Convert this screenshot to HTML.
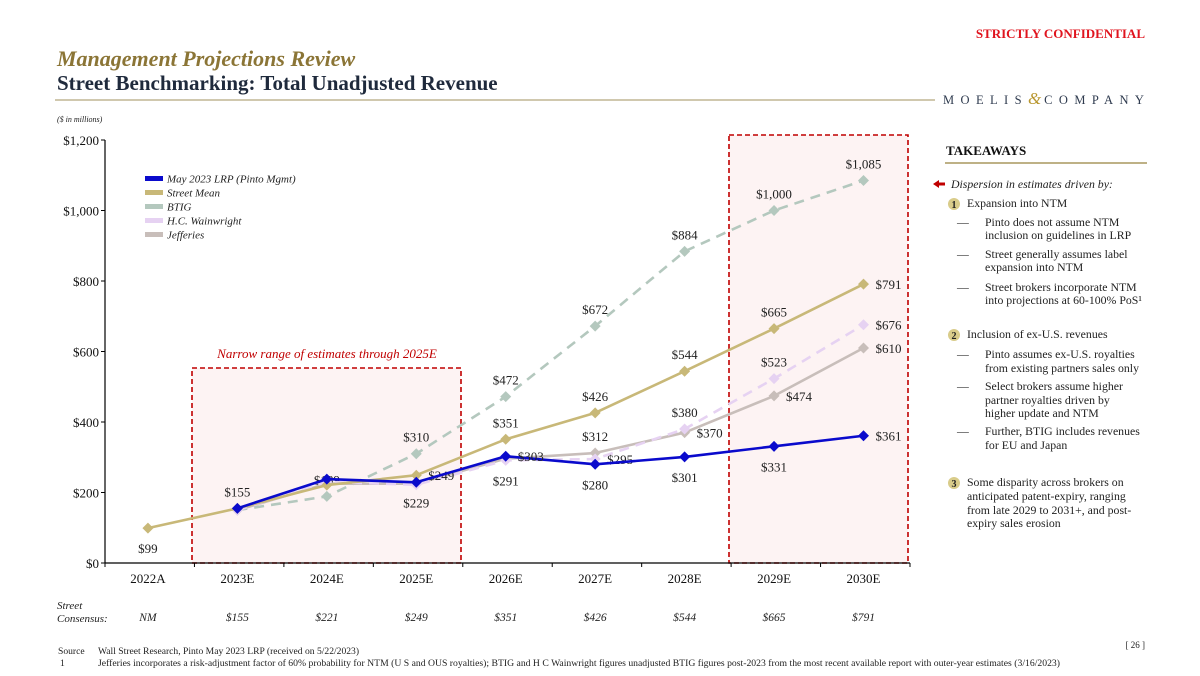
<!DOCTYPE html>
<html><head><meta charset="utf-8"><style>
html,body{margin:0;padding:0;background:#fff;}
svg{display:block;font-family:"Liberation Serif",serif;}
</style></head><body>
<svg width="1200" height="676" viewBox="0 0 1200 676" xmlns="http://www.w3.org/2000/svg">
<text x="1145" y="38" text-anchor="end" font-size="13" font-weight="bold" fill="#E0141E">STRICTLY CONFIDENTIAL</text>
<text x="57" y="66" font-size="22" font-style="italic" font-weight="bold" fill="#8B7536">Management Projections Review</text>
<text x="57" y="90" font-size="21" font-weight="bold" fill="#1F2A3C">Street Benchmarking: Total Unadjusted Revenue</text>
<line x1="55" y1="100" x2="935" y2="100" stroke="#B5A77E" stroke-width="1.2"/>
<text x="943" y="104" font-size="12.5" letter-spacing="6.4" fill="#2E3A4E">MOELIS<tspan fill="#B8962E" font-size="17" font-style="italic" letter-spacing="3">&amp;</tspan>COMPANY</text>
<text x="57" y="122" font-size="8" font-style="italic" fill="#222">($ in millions)</text>

<g id="chart"></g>

<g font-size="11.8" fill="#222">
<text x="946" y="155" font-size="13" font-weight="bold" fill="#111">TAKEAWAYS</text>
<line x1="945" y1="163" x2="1147" y2="163" stroke="#A8975E" stroke-width="1.5"/>
<path d="M933 184 L939 180 L939 182.5 L945 182.5 L945 185.5 L939 185.5 L939 188 Z" fill="#C00000"/>
<text x="951" y="188" font-style="italic">Dispersion in estimates driven by:</text>
<circle cx="954" cy="204" r="6" fill="#D9CC8A"/><text x="954" y="208" font-size="10" font-weight="bold" text-anchor="middle">1</text>
<text x="967" y="207">Expansion into NTM</text>
<g>
<text x="957" y="226">—</text><text x="985" y="226">Pinto does not assume NTM</text><text x="985" y="239">inclusion on guidelines in LRP</text>
<text x="957" y="258">—</text><text x="985" y="258">Street generally assumes label</text><text x="985" y="271">expansion into NTM</text>
<text x="957" y="291">—</text><text x="985" y="291">Street brokers incorporate NTM</text><text x="985" y="304">into projections at 60-100% PoS¹</text>
</g>
<circle cx="954" cy="335" r="6" fill="#D9CC8A"/><text x="954" y="339" font-size="10" font-weight="bold" text-anchor="middle">2</text>
<text x="967" y="338">Inclusion of ex-U.S. revenues</text>
<g>
<text x="957" y="358">—</text><text x="985" y="358">Pinto assumes ex-U.S. royalties</text><text x="985" y="372">from existing partners sales only</text>
<text x="957" y="390">—</text><text x="985" y="390">Select brokers assume higher</text><text x="985" y="404">partner royalties driven by</text><text x="985" y="417">higher update and NTM</text>
<text x="957" y="435">—</text><text x="985" y="435">Further, BTIG includes revenues</text><text x="985" y="449">for EU and Japan</text>
</g>
<circle cx="954" cy="483" r="6" fill="#D9CC8A"/><text x="954" y="487" font-size="10" font-weight="bold" text-anchor="middle">3</text>
<g>
<text x="967" y="486">Some disparity across brokers on</text><text x="967" y="500">anticipated patent-expiry, ranging</text><text x="967" y="514">from late 2029 to 2031+, and post-</text><text x="967" y="527">expiry sales erosion</text>
</g>
</g>

<text x="57" y="609" font-size="11" font-style="italic" fill="#222">Street</text>
<text x="57" y="622" font-size="11" font-style="italic" fill="#222">Consensus:</text>
<g id="consensus"></g>

<text x="1145" y="648" text-anchor="end" font-size="9" fill="#222">[ 26 ]</text>
<g font-size="9.6" fill="#222">
<text x="58" y="654">Source</text><text x="98" y="654">Wall Street Research, Pinto May 2023 LRP (received on 5/22/2023)</text>
<text x="60" y="666">1</text><text x="98" y="666" textLength="962" lengthAdjust="spacingAndGlyphs">Jefferies incorporates a risk-adjustment factor of 60% probability for NTM (U S  and OUS royalties); BTIG and H C  Wainwright figures unadjusted  BTIG figures post-2023 from the most recent available report with outer-year estimates (3/16/2023)</text>
</g>
</svg>
<script>
const categories=["2022A","2023E","2024E","2025E","2026E","2027E","2028E","2029E","2030E"];
const yTicks=[0,200,400,600,800,1000,1200];
const lrp=[null,155,238,229,303,280,301,331,361];
const streetMean=[99,155,221,249,351,426,544,665,791];
const btig=[null,150,189,310,472,672,884,1000,1085];
const hcw=[null,150,230,222,291,295,380,523,676];
const jefferies=[null,150,225,225,296,312,370,474,610];
const consensus=["NM","$155","$221","$249","$351","$426","$544","$665","$791"];
const lrpLabels=[null,"a",null,"b","r","b","b","b","r"];
const meanLabels=["b",null,null,"r","a","a","a","a","r"];
const btigLabels=[null,null,"a","a","a","a","a","a","a"];
const hcwLabels=[null,null,null,null,"b","r","a","a","r"];
const jefLabels=[null,null,null,null,null,"a","r","r","r"];

const NS="http://www.w3.org/2000/svg";
const g=document.getElementById('chart');
const X0=105,X1=910,Y0=563,Y1=140,YMAX=1200;
const step=(X1-X0)/categories.length;
function xs(i){return X0+step*(i+0.48);}
function ys(v){return Y0-(v/YMAX)*(Y0-Y1);}
function mk(tag,attrs){const e=document.createElementNS(NS,tag);for(const k in attrs)e.setAttribute(k,attrs[k]);return e;}
function fmt(v){return "$"+v.toLocaleString("en-US");}

const b1=mk('rect',{x:192,y:368,width:269,height:195,fill:'#FDF3F3',stroke:'#C00000','stroke-width':1.6,'stroke-dasharray':'5,3'});


g.appendChild(b1);
const b2=mk('rect',{x:729,y:135,width:179,height:428,fill:'#FDF3F3',stroke:'#C00000','stroke-width':1.6,'stroke-dasharray':'5,3'});


g.appendChild(b2);
const nt=mk('text',{x:327,y:358,'text-anchor':'middle','font-size':13,'font-style':'italic',fill:'#C00000'});
nt.textContent='Narrow range of estimates through 2025E';


g.appendChild(nt);

const ya=mk('line',{x1:X0,y1:Y1,x2:X0,y2:Y0,stroke:'#000','stroke-width':1.2});


g.appendChild(ya);
const xa=mk('line',{x1:X0,y1:Y0,x2:X1,y2:Y0,stroke:'#000','stroke-width':1.2});


g.appendChild(xa);
yTicks.forEach(v=>{
  const t=mk('line',{x1:X0-4,y1:ys(v),x2:X0,y2:ys(v),stroke:'#000'});
  
  
  g.appendChild(t);
  const l=mk('text',{x:X0-6,y:ys(v)+5,'text-anchor':'end','font-size':13,fill:'#111'});
  l.textContent=fmt(v);
  
  
  g.appendChild(l);
});
for(let i=0;i<=categories.length;i++){
  const t=mk('line',{x1:X0+step*i,y1:Y0,x2:X0+step*i,y2:Y0+4,stroke:'#000'});
  
  
  g.appendChild(t);
}
categories.forEach((c,i)=>{
  const l=mk('text',{x:xs(i),y:583,'text-anchor':'middle','font-size':13,fill:'#111'});
  l.textContent=c;
  
  
  g.appendChild(l);
});
const cg=document.getElementById('consensus');
consensus.forEach((c,i)=>{
  const l=mk('text',{x:xs(i),y:621,'text-anchor':'middle','font-size':11.5,'font-style':'italic',fill:'#222'});
  l.textContent=c;
  
  
  cg.appendChild(l);
});

function series(name,vals,color,width,dash,labels,ms){
  const sg=mk('g',{});
  
  
  let d='';
  vals.forEach((v,i)=>{if(v==null)return;d+=(d?'L':'M')+xs(i)+' '+ys(v)+' ';});
  const p=mk('path',{d:d,fill:'none',stroke:color,'stroke-width':width,'stroke-dasharray':dash||'none','stroke-linejoin':'round'});
  
  
  sg.appendChild(p);
  vals.forEach((v,i)=>{
    if(v==null)return;
    const x=xs(i),y=ys(v);
    const m=mk('path',{d:`M${x} ${y-ms}L${x+ms} ${y}L${x} ${y+ms}L${x-ms} ${y}Z`,fill:color});
    
    
    sg.appendChild(m);
    const pl=labels[i];
    if(pl){
      let tx=x,ty=y,anc='middle';
      if(pl==='a'){ty=y-12;}
      else if(pl==='b'){ty=y+25;}
      else {tx=x+12;ty=y+5;anc='start';}
      const t=mk('text',{x:tx,y:ty,'text-anchor':anc,'font-size':13,fill:'#222'});
      t.textContent=fmt(v);
      
      
      sg.appendChild(t);
    }
  });
  g.appendChild(sg);
}
series('btig',btig,'#B4C8BE',2.6,'10,7',btigLabels,5.5);
series('jefferies',jefferies,'#C8BEBA',2.6,null,jefLabels,5.5);
series('hc-wainwright',hcw,'#E6D2F2',2.6,'10,7',hcwLabels,5.5);
series('street-mean',streetMean,'#C8B878',2.6,null,meanLabels,5.5);
series('lrp',lrp,'#0A0ACC',2.6,null,lrpLabels,5.5);

const legend=[["May 2023 LRP (Pinto Mgmt)","#0A0ACC"],["Street Mean","#C8B878"],["BTIG","#B4C8BE"],["H.C. Wainwright","#E6D2F2"],["Jefferies","#C8BEBA"]];
const lg=mk('g',{});


legend.forEach((e,i)=>{
  const y=179+i*14;
  const r=mk('rect',{x:145,y:y-3,width:18,height:5,fill:e[1]});
  
  
  lg.appendChild(r);
  const t=mk('text',{x:167,y:y+3.5,'font-size':11,'font-style':'italic',fill:'#222'});
  t.textContent=e[0];
  
  
  lg.appendChild(t);
});
g.appendChild(lg);
</script>
</body></html>
